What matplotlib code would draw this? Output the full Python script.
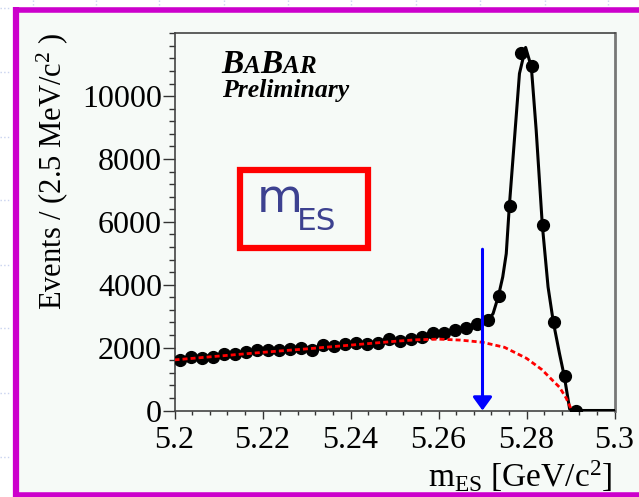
import numpy as np
import matplotlib
matplotlib.use('Agg')
import matplotlib.pyplot as plt
from matplotlib.patches import Rectangle
from matplotlib.lines import Line2D
from matplotlib.ticker import MultipleLocator

plt.rcParams['font.family'] = ['Liberation Serif', 'DejaVu Serif']
plt.rcParams['mathtext.fontset'] = 'custom'
plt.rcParams['mathtext.rm'] = 'Liberation Serif'
plt.rcParams['mathtext.it'] = 'Liberation Serif:italic'

# mES data: 2.5 MeV bins, events per bin
bin_centers = np.arange(5.20125, 5.2925, 0.0025)
counts = [1620, 1700, 1680, 1700, 1810, 1790, 1850, 1920, 1920, 1940,
          1970, 2000, 1940, 2080, 2060, 2100, 2150, 2100, 2150, 2290,
          2220, 2290, 2330, 2470, 2470, 2560, 2630, 2740, 2880, 3640,
          6520, 11370, 10960, 5910, 2830, 1100, 0]

# total fit
fit_x = [5.200, 5.210, 5.220, 5.230, 5.240, 5.250, 5.255, 5.260, 5.265, 5.268,
         5.2712, 5.2724, 5.2736, 5.2746, 5.2754, 5.2761, 5.2773, 5.2784, 5.2798,
         5.2811, 5.2822, 5.2836, 5.2849, 5.2861, 5.2875, 5.2886, 5.2898, 5.2905, 5.300]
fit_y = [1640, 1760, 1880, 1990, 2100, 2220, 2300, 2400, 2560, 2700,
         2870, 3080, 3630, 4250, 4990, 6510, 8700, 10720, 11550,
         10930, 8920, 5890, 3930, 2810, 1810, 1080, 50, 0, 0]

# background component (ARGUS)
bkg_x = [5.200, 5.210, 5.220, 5.230, 5.240, 5.250, 5.255, 5.260, 5.265, 5.270,
         5.275, 5.280, 5.2835, 5.2852, 5.2875, 5.2890, 5.2898, 5.2903]
bkg_y = [1610, 1730, 1850, 1960, 2080, 2200, 2250, 2270, 2240, 2170,
         2010, 1660, 1300, 1060, 740, 400, 150, 0]

cut_x = 5.27
cut_top = 5130

W, H = 639, 497
fig = plt.figure(figsize=(W / 100, H / 100), dpi=100)
fig.patch.set_facecolor('white')
bg = '#f6faf7'

# slide background: faint dotted grid outside the frame
for xp in [33, 96, 159, 224, 288, 351, 416, 480, 545, 608]:
    fig.add_artist(Line2D([xp / W, xp / W], [1, 1 - 5 / H], color='#c9d3ef',
                          lw=1, ls=':', transform=fig.transFigure))
for yp in [8, 72, 137, 200, 265, 328, 393, 457]:
    fig.add_artist(Line2D([0, 11 / W], [1 - yp / H, 1 - yp / H], color='#c9d3ef',
                          lw=1, ls=':', transform=fig.transFigure))

# magenta frame
fig.add_artist(Rectangle((13 / W, 0), 1 - 13 / W, 1 - 7 / H, transform=fig.transFigure,
                         facecolor=bg, edgecolor='none', zorder=0))
mag = '#cc00cc'
fig.add_artist(Line2D([16 / W, 16 / W], [0, 1 - 7 / H], color=mag, lw=4.5,
                      transform=fig.transFigure, solid_capstyle='butt'))
fig.add_artist(Line2D([13 / W, 1], [1 - 9.5 / H, 1 - 9.5 / H], color=mag, lw=4,
                      transform=fig.transFigure, solid_capstyle='butt'))
fig.add_artist(Line2D([13 / W, 1], [2 / H, 2 / H], color=mag, lw=4,
                      transform=fig.transFigure, solid_capstyle='butt'))

ax = fig.add_axes([174.5 / W, (H - 410.5) / H, 440 / W, 377.2 / H])
ax.set_facecolor(bg)

ax.plot(fit_x, fit_y, color='black', lw=2.2, zorder=3)
ax.plot(bin_centers, counts, 'o', color='black', ms=8.5, zorder=4)
ax.plot(bkg_x, bkg_y, color='#ff0000', lw=2.0, ls=(0, (1.8, 1.1)), zorder=5)

ax.annotate('', xy=(cut_x, 0), xytext=(cut_x, cut_top),
            arrowprops=dict(arrowstyle='-|>,head_length=0.4,head_width=0.29',
                            mutation_scale=20, color='#0000ff', lw=2.2,
                            shrinkA=0, shrinkB=0), zorder=6)

ax.set_xlim(5.2, 5.3)
ax.set_ylim(0, 12000)
ax.xaxis.set_minor_locator(MultipleLocator(0.004))
ax.yaxis.set_minor_locator(MultipleLocator(400))
ax.set_xticks([5.2, 5.22, 5.24, 5.26, 5.28, 5.3])
ax.set_xticklabels(['5.2', '5.22', '5.24', '5.26', '5.28', '5.3'])
ax.set_yticks([0, 2000, 4000, 6000, 8000, 10000])
ax.tick_params(axis='both', which='major', labelsize=23, color='#333333')
ax.tick_params(axis='x', which='major', length=6, width=1, pad=5)
ax.tick_params(axis='x', which='minor', length=3, width=1, color='#333333')
ax.tick_params(axis='y', which='major', length=9, width=1, pad=0)
ax.tick_params(axis='y', which='minor', length=4, width=1, color='#333333')
for s in ax.spines.values():
    s.set_color('#444444')
    s.set_linewidth(1.2)
ax.spines['right'].set_color('#777777')
ax.spines['right'].set_linewidth(2)

fig.text(52 / W, 1 - 33 / H, 'Events / (2.5 MeV/c$^{2}$ )', rotation=90,
         ha='center', va='top', fontsize=22)
fig.text(612 / W, 1 - 487 / H, r'm$_{\mathrm{ES}}$ [GeV/c$^{2}$]',
         ha='right', va='baseline', fontsize=24)

# BABAR logo, small caps built piece by piece
logo = dict(fontweight='bold', fontstyle='italic', va='baseline', color='black')
base = 1 - 73 / H
renderer = fig.canvas.get_renderer()
xpos = 221
for piece, size in [('B', 24), ('A', 18), ('B', 24), ('A', 18), ('R', 18)]:
    t = fig.text(xpos / W, base, piece, fontsize=size, **logo)
    xpos = t.get_window_extent(renderer).x1
fig.text(222 / W, 1 - 97 / H, 'Preliminary', fontsize=18.5, **logo)

# mES box
fig.add_artist(Rectangle((240 / W, 1 - 247.5 / H), 128 / W, 77.5 / H,
                         transform=fig.transFigure, facecolor='none',
                         edgecolor='#ff0000', lw=4.5))
fig.text(257 / W, 1 - 212 / H, 'm', fontsize=34, color='#3d4190',
         family='DejaVu Sans', va='baseline')
fig.text(297 / W, 1 - 230 / H, 'ES', fontsize=22.5, color='#3d4190',
         family='DejaVu Sans', va='baseline')

fig.savefig('out.png', dpi=100, facecolor=fig.get_facecolor())
